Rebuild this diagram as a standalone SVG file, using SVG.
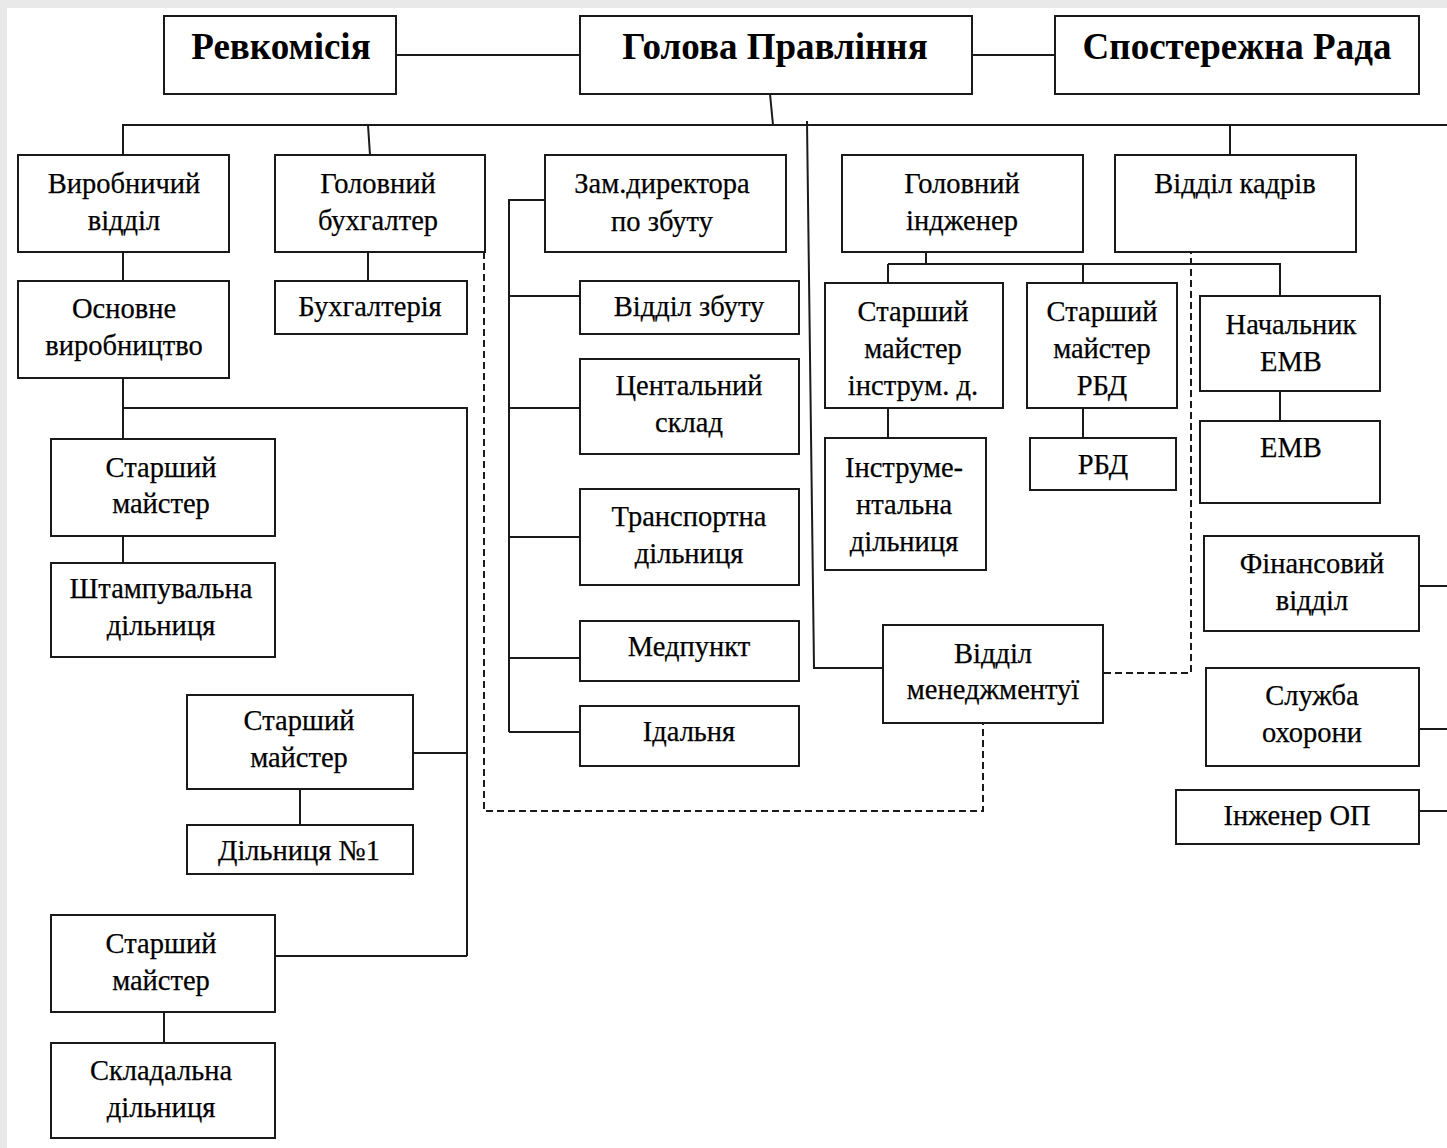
<svg xmlns="http://www.w3.org/2000/svg" width="1447" height="1148" viewBox="0 0 1447 1148">
<defs>
<style>
.b{fill:#fff;stroke:#1a1a1a;stroke-width:2}
.t{font-family:"Liberation Serif","Times New Roman",serif;font-size:28.5px;fill:#000;stroke:#000;stroke-width:0.25;text-anchor:middle}
.h{font-family:"Liberation Serif","Times New Roman",serif;font-size:37px;font-weight:bold;fill:#000;text-anchor:middle}
.l{fill:none;stroke:#1a1a1a;stroke-width:2}
.d{fill:none;stroke:#1a1a1a;stroke-width:2;stroke-dasharray:7 4}
</style>
</defs>
<rect x="0" y="0" width="1447" height="1148" fill="#e9e9e9"/>
<rect x="7" y="8" width="1440" height="1140" fill="#fff"/>
<g id="connectors">
<path class="l" d="M396 55H580M972 55H1055"/>
<path class="l" d="M122 125H1447"/>
<path class="l" d="M770 94L773 125"/>
<path class="l" d="M807 121L814 668H884"/>
<path class="l" d="M123 125V155M368 125L370 155M1230 125V155"/>
<path class="l" d="M123 252V281M368 252V281"/>
<path class="l" d="M123 378V439M123 408H467V956M123 536V563M413 753H467M300 789V825M275 956H467M164 1012V1043"/>
<path class="l" d="M545 200H509V732M509 296H580M509 408H580M509 537H580M509 658H580M509 732H580"/>
<path class="l" d="M926 252V264M888 264H1280V296M888 264V283M1083 264V283M888 408V438M1083 408V438M1280 391V421"/>
<path class="l" d="M1419 586H1447M1419 729H1447M1419 811H1447"/>
<path class="d" d="M484 252V811H983V723"/>
<path class="d" d="M1104 673H1191V252"/>
</g>
<g id="revkomisiya"><rect class="b" x="164" y="16" width="232" height="78"/><text class="h" x="281" y="59">Ревкомісія</text></g>
<g id="holova"><rect class="b" x="580" y="16" width="392" height="78"/><text class="h" x="775" y="59">Голова Правління</text></g>
<g id="sposterezhna"><rect class="b" x="1055" y="16" width="364" height="78"/><text class="h" x="1237" y="59">Спостережна Рада</text></g>
<g id="vyrobnychyi"><rect class="b" x="18" y="155" width="211" height="97"/><text class="t" x="124" y="193">Виробничий</text><text class="t" x="124" y="230">відділ</text></g>
<g id="holovnyi-bukh"><rect class="b" x="275" y="155" width="210" height="97"/><text class="t" x="378" y="193">Головний</text><text class="t" x="378" y="230">бухгалтер</text></g>
<g id="zam-dyrektora"><rect class="b" x="545" y="155" width="241" height="97"/><text class="t" x="662" y="193">Зам.директора</text><text class="t" x="662" y="231">по збуту</text></g>
<g id="holovnyi-inzh"><rect class="b" x="842" y="155" width="241" height="97"/><text class="t" x="962" y="193">Головний</text><text class="t" x="962" y="230">індженер</text></g>
<g id="viddil-kadriv"><rect class="b" x="1115" y="155" width="241" height="97"/><text class="t" x="1235" y="193">Відділ кадрів</text></g>
<g id="osnovne"><rect class="b" x="18" y="281" width="211" height="97"/><text class="t" x="124" y="318">Основне</text><text class="t" x="124" y="355">виробництво</text></g>
<g id="bukhhalteriya"><rect class="b" x="275" y="281" width="192" height="53"/><text class="t" x="370" y="316">Бухгалтерія</text></g>
<g id="st-maister-1"><rect class="b" x="51" y="439" width="224" height="97"/><text class="t" x="161" y="477">Старший</text><text class="t" x="161" y="513">майстер</text></g>
<g id="shtampuvalna"><rect class="b" x="51" y="563" width="224" height="94"/><text class="t" x="161" y="598">Штампувальна</text><text class="t" x="161" y="635">дільниця</text></g>
<g id="st-maister-2"><rect class="b" x="187" y="695" width="226" height="94"/><text class="t" x="299" y="730">Старший</text><text class="t" x="299" y="767">майстер</text></g>
<g id="dilnytsya-1"><rect class="b" x="187" y="825" width="226" height="49"/><text class="t" x="299" y="860">Дільниця №1</text></g>
<g id="st-maister-3"><rect class="b" x="51" y="915" width="224" height="97"/><text class="t" x="161" y="953">Старший</text><text class="t" x="161" y="990">майстер</text></g>
<g id="skladalna"><rect class="b" x="51" y="1043" width="224" height="95"/><text class="t" x="161" y="1080">Складальна</text><text class="t" x="161" y="1117">дільниця</text></g>
<g id="viddil-zbutu"><rect class="b" x="580" y="281" width="219" height="53"/><text class="t" x="689" y="316">Відділ збуту</text></g>
<g id="tsentalnyi-sklad"><rect class="b" x="580" y="359" width="219" height="95"/><text class="t" x="689" y="395">Центальний</text><text class="t" x="689" y="432">склад</text></g>
<g id="transportna"><rect class="b" x="580" y="489" width="219" height="96"/><text class="t" x="689" y="526">Транспортна</text><text class="t" x="689" y="563">дільниця</text></g>
<g id="medpunkt"><rect class="b" x="580" y="621" width="219" height="60"/><text class="t" x="689" y="656">Медпункт</text></g>
<g id="idalnya"><rect class="b" x="580" y="706" width="219" height="60"/><text class="t" x="689" y="741">Ідальня</text></g>
<g id="st-maister-instr"><rect class="b" x="825" y="283" width="178" height="125"/><text class="t" x="913" y="321">Старший</text><text class="t" x="913" y="358">майстер</text><text class="t" x="913" y="395">інструм. д.</text></g>
<g id="st-maister-rbd"><rect class="b" x="1027" y="283" width="150" height="125"/><text class="t" x="1102" y="321">Старший</text><text class="t" x="1102" y="358">майстер</text><text class="t" x="1102" y="395">РБД</text></g>
<g id="instrumentalna"><rect class="b" x="825" y="438" width="161" height="132"/><text class="t" x="904" y="477">Інструме-</text><text class="t" x="904" y="514">нтальна</text><text class="t" x="904" y="551">дільниця</text></g>
<g id="rbd"><rect class="b" x="1030" y="438" width="146" height="52"/><text class="t" x="1103" y="474">РБД</text></g>
<g id="nachalnyk-emv"><rect class="b" x="1200" y="296" width="180" height="95"/><text class="t" x="1291" y="334">Начальник</text><text class="t" x="1291" y="371">ЕМВ</text></g>
<g id="emv"><rect class="b" x="1200" y="421" width="180" height="82"/><text class="t" x="1291" y="457">ЕМВ</text></g>
<g id="finansovyi"><rect class="b" x="1204" y="536" width="215" height="95"/><text class="t" x="1312" y="573">Фінансовий</text><text class="t" x="1312" y="610">відділ</text></g>
<g id="sluzhba-okhorony"><rect class="b" x="1206" y="668" width="213" height="98"/><text class="t" x="1312" y="705">Служба</text><text class="t" x="1312" y="742">охорони</text></g>
<g id="inzhener-op"><rect class="b" x="1176" y="790" width="243" height="54"/><text class="t" x="1297" y="825">Інженер ОП</text></g>
<g id="viddil-menedzh"><rect class="b" x="883" y="625" width="220" height="98"/><text class="t" x="993" y="663">Відділ</text><text class="t" x="993" y="699">менеджментуї</text></g>
</svg>
